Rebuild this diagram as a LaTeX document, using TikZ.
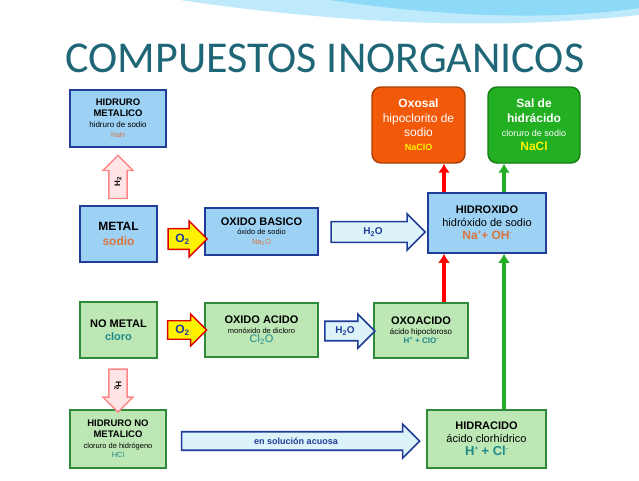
\documentclass[tikz,border=0pt]{standalone}
\usepackage{fontspec}
\setmainfont{Liberation Sans}
\newfontfamily\titlefont{Carlito}
\usetikzlibrary{shapes.arrows,arrows.meta}
\definecolor{bfill}{HTML}{9DD2F5}
\definecolor{bdraw}{HTML}{1F3D99}
\definecolor{gfill}{HTML}{BDE8B5}
\definecolor{gdraw}{HTML}{2E8B3A}
\definecolor{ofill}{HTML}{F25A0A}
\definecolor{sfill}{HTML}{22B022}
\definecolor{ttl}{HTML}{1F6677}
\definecolor{brn}{HTML}{D9733F}
\definecolor{tealtx}{HTML}{1F8A8A}
\definecolor{afill}{HTML}{DDF3FA}
\newcommand{\fs}[1]{\fontsize{#1}{\dimexpr #1pt*6/5\relax}\selectfont}
\newcommand{\sps}[1]{\raisebox{0.45em}{\fs{6}#1}}
\tikzset{
 bbox/.style={draw=bdraw,line width=1.6pt,fill=bfill,align=center,inner sep=1pt,font=\fs{8}},
 gbox/.style={draw=gdraw,line width=1.6pt,fill=gfill,align=center,inner sep=1pt,font=\fs{8}},
 rbox/.style={draw=#1!70!black,line width=1.4pt,fill=#1,rounded corners=9pt,align=center,inner sep=1pt,text=white},
 oarrow/.style={single arrow,draw=red!85!black,fill=yellow,line width=1.4pt,minimum height=39pt,minimum width=36pt,single arrow head extend=5pt,inner sep=1pt,font=\fs{12}\bfseries,text=bdraw},
 warrow/.style={single arrow,draw=bdraw,fill=afill,line width=1.6pt,single arrow head extend=6pt,inner sep=3pt,font=\fs{10}\bfseries,text=bdraw},
 parrow/.style={single arrow,draw=pink!70!red,fill=pink!40,line width=1.4pt,minimum height=43pt,minimum width=30pt,single arrow head extend=4pt,inner sep=2pt,font=\fs{8}\bfseries},
 redarr/.style={draw=red,line width=3.5pt,-{Latex[length=9pt,width=12pt]}},
 grnarr/.style={draw=sfill,line width=3.5pt,-{Latex[length=9pt,width=12pt]}}
}
\begin{document}
\begin{tikzpicture}[x=1pt,y=-1pt]
\useasboundingbox (0,0) rectangle (639,480);
\fill[white] (0,0) rectangle (639,480);
\fill[cyan!25] (180,0) .. controls (350,25) and (500,30) .. (639,15) -- (639,0) -- cycle;
\fill[cyan!45] (330,0) .. controls (450,18) and (560,20) .. (639,8) -- (639,0) -- cycle;
\node[font=\titlefont\fs{44},text=ttl] (title) at (325,58) {COMPUESTOS INORGANICOS};

\node[bbox,minimum width=96pt,minimum height=57pt] (hm) at (118,118.5) {\textbf{\fs{9.5}HIDRURO}\\[1.5pt]\textbf{\fs{9.5}METALICO}\\[1pt]hidruro de sodio\\[1pt]{\fs{7}\color{brn}NaH}};
\node[bbox,minimum width=77pt,minimum height=56pt,font=\fs{12}\bfseries] (metal) at (118.5,234) {METAL\\{\color{brn}sodio}};
\node[bbox,minimum width=113pt,minimum height=47pt] (ob) at (261.5,231.5) {\textbf{\fs{11}OXIDO BASICO}\\{\fs{7.5}óxido de sodio}\\{\fs{7.5}\color{brn}Na\textsubscript{2}O}};
\node[bbox,minimum width=118pt,minimum height=60pt,font=\fs{11}] (hx) at (487,223) {\textbf{HIDROXIDO}\\hidróxido de sodio\\\textbf{\fs{12}\color{brn}Na\sps{+}+ OH\sps{-}}};
\node[rbox=ofill,minimum width=93pt,minimum height=76pt,font=\fs{12}] (oxosal) at (418.5,125) {\textbf{Oxosal}\\hipoclorito de\\sodio\\{\fs{9}\bfseries\color{yellow}NaClO}};
\node[rbox=sfill,minimum width=92pt,minimum height=76pt,font=\fs{12}] (sal) at (534,125) {\textbf{Sal de}\\\textbf{hidrácido}\\{\fs{9}cloruro de sodio}\\\textbf{\color{yellow}NaCl}};

\node[gbox,minimum width=77pt,minimum height=56pt,font=\fs{11}\bfseries] (nm) at (118.5,330) {NO METAL\\{\color{tealtx}cloro}};
\node[gbox,minimum width=113pt,minimum height=54pt] (oa) at (261.5,330) {\textbf{\fs{11}OXIDO ACIDO}\\{\fs{7.5}monóxido de dicloro}\\{\fs{11}\color{tealtx}Cl\textsubscript{2}O}};
\node[gbox,minimum width=94pt,minimum height=55pt] (oxa) at (421,330.5) {\textbf{\fs{11}OXOACIDO}\\{\fs{8}ácido hipocloroso}\\{\fs{8}\bfseries\color{tealtx}H\sps{+} + ClO\sps{-}}};
\node[gbox,minimum width=96pt,minimum height=58pt] (hnm) at (118,439) {\textbf{\fs{9.5}HIDRURO NO}\\[1.5pt]\textbf{\fs{9.5}METALICO}\\[1pt]{\fs{7.5}cloruro de hidrógeno}\\{\fs{7.5}\color{tealtx}HCl}};
\node[gbox,minimum width=119pt,minimum height=58pt,font=\fs{11}] (hc) at (486.5,439) {\textbf{HIDRACIDO}\\ácido clorhídrico\\\textbf{\fs{13}\color{tealtx}H\sps{+} + Cl\sps{-}}};

\node[oarrow] (o1) at (182.5,239) {O\textsubscript{2}\hspace{6pt}};
\node[oarrow,minimum width=32pt] (o2) at (182.5,330) {O\textsubscript{2}\hspace{6pt}};
\node[warrow,minimum height=94pt,minimum width=36pt] (w1) at (373,232) {H\textsubscript{2}O\hspace{14pt}};
\node[warrow,minimum height=50pt,minimum width=34pt] (w2) at (345,331) {H\textsubscript{2}O\hspace{4pt}};
\node[warrow,minimum height=238pt,minimum width=34pt,font=\fs{9}\bfseries] (w3) at (296,441) {en solución acuosa\hspace{50pt}};
\node[parrow,shape border rotate=90] (p1) at (118,181.5) {\rotatebox{90}{H\textsubscript{2}}};
\node[parrow,shape border rotate=270] (p2) at (118,386) {\rotatebox{-90}{H\textsubscript{2}}};

\coordinate (rx) at (444,0);
\coordinate (gx) at (504,0);
\draw[redarr] (hx.north -| rx) -- (oxosal.south -| rx);
\draw[grnarr] (hx.north -| gx) -- (sal.south -| gx);
\draw[redarr] (oxa.north -| rx) -- (hx.south -| rx);
\draw[grnarr] (hc.north -| gx) -- (hx.south -| gx);
\end{tikzpicture}
\end{document}
